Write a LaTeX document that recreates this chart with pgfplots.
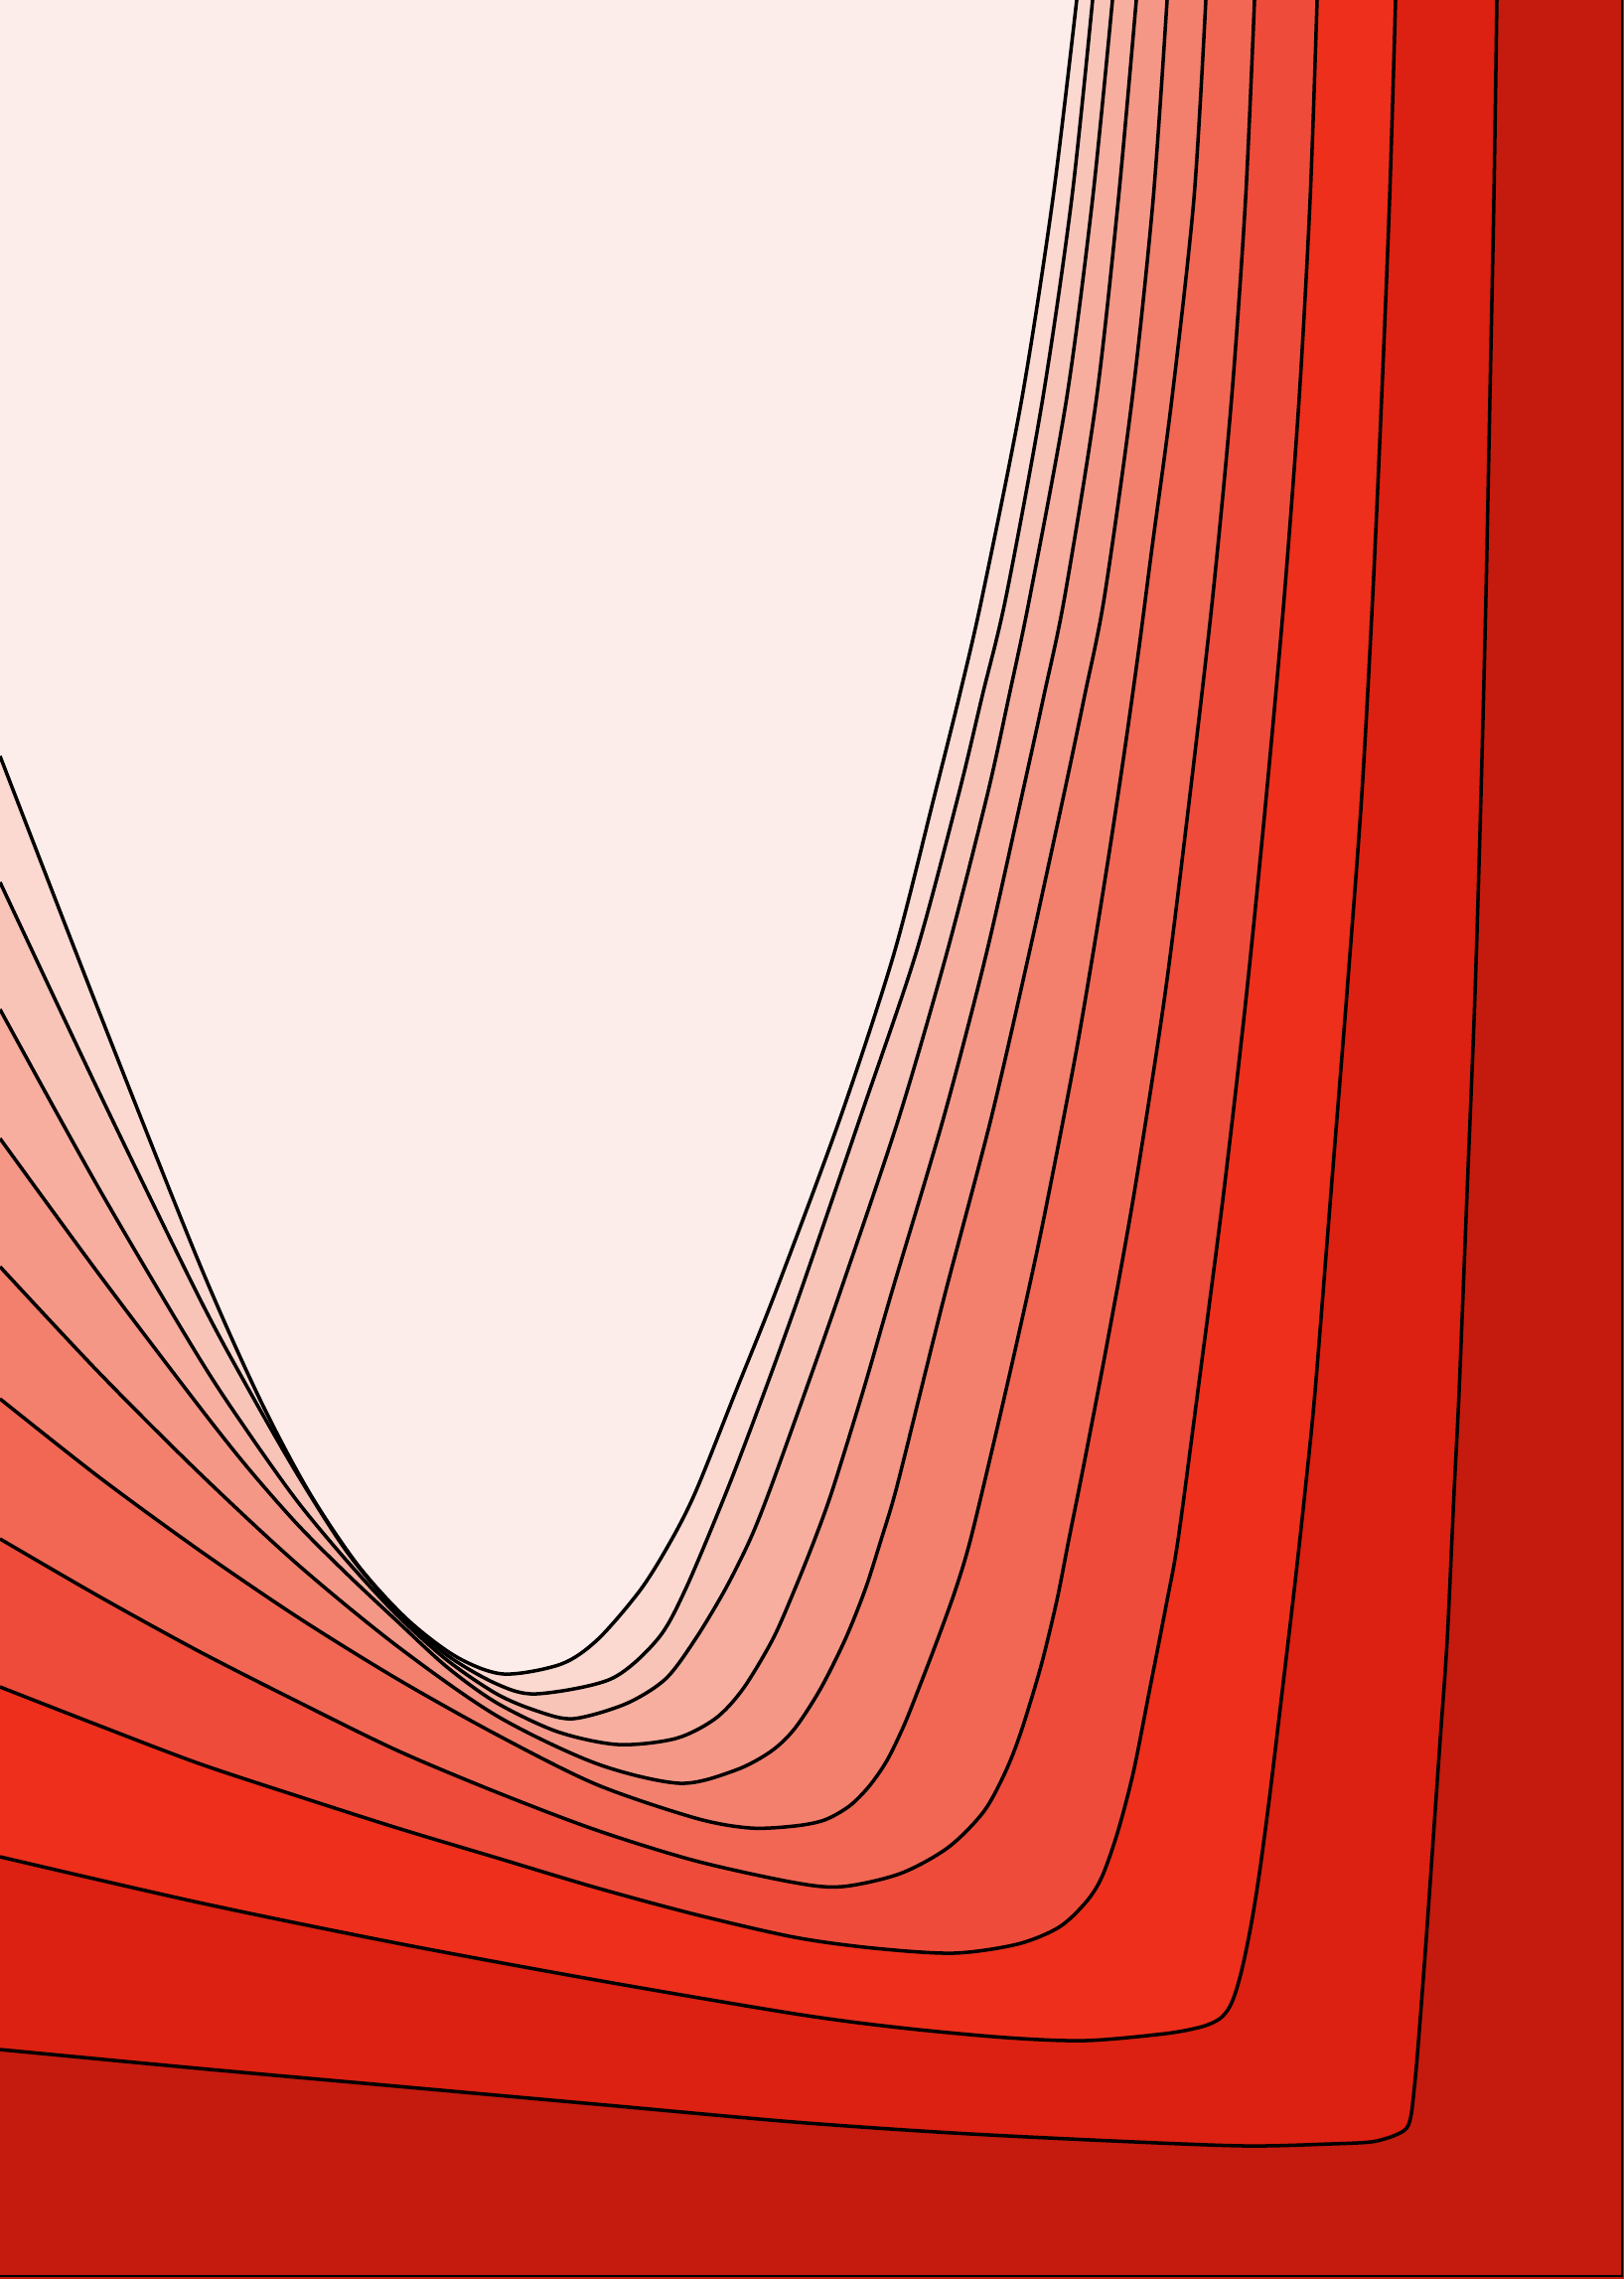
\documentclass[border=0pt]{standalone}
\usepackage{pgfplots}
\usepackage{pgfplotstable}
\pgfplotsset{compat=1.18}

\definecolor{r0}{HTML}{C51A0E}
\definecolor{r1}{HTML}{DC2011}
\definecolor{r2}{HTML}{EE2F1C}
\definecolor{r3}{HTML}{EF4B3A}
\definecolor{r4}{HTML}{F26754}
\definecolor{r5}{HTML}{F3806D}
\definecolor{r6}{HTML}{F59786}
\definecolor{r7}{HTML}{F7AE9F}
\definecolor{r8}{HTML}{F9C4B8}
\definecolor{r9}{HTML}{FBD9D0}
\definecolor{r10}{HTML}{FDEDEA}

% contour lines, image coordinates (y grows downwards), inner to outer
\pgfplotstableread{
x y
0 761
100 1019
200 1270
260 1405
310 1500
360 1575
410 1630
460 1668
507 1685
565 1675
602 1650
645 1600
676 1550
701 1500
741 1400
781 1300
846 1125
900 960
941 800
966 700
989 600
1029 400
1060 200
1084 0
}\lA
\pgfplotstableread{
x y
0 888
100 1100
200 1305
250 1398
300 1485
350 1563
400 1622
450 1666
500 1695
540 1705
615 1690
662 1650
690 1600
732 1500
770 1400
806 1300
866 1125
922 960
965 800
989 700
1013 600
1050 400
1079 200
1100 0
}\lB
\pgfplotstableread{
x y
0 1016
100 1197
200 1366
250 1442
300 1512
350 1572
400 1626
450 1671
500 1705
540 1722
577 1730
630 1715
670 1690
700 1650
730 1600
755 1550
775 1500
811 1400
846 1300
905 1125
953 960
994 800
1016 700
1037 600
1074 400
1100 200
1120 0
}\lC
\pgfplotstableread{
x y
0 1146
100 1283
200 1415
250 1478
300 1535
350 1585
400 1632
450 1678
500 1714
561 1743
622 1756
680 1750
720 1730
748 1700
778 1650
800 1600
820 1550
838 1500
869 1400
898 1300
950 1125
993 960
1029 800
1051 700
1072 600
1104 400
1126 200
1144 0
}\lD
\pgfplotstableread{
x y
0 1275
100 1382
200 1482
300 1575
400 1657
500 1727
600 1775
684 1795
740 1782
776 1763
800 1740
826 1700
851 1650
871 1600
887 1550
902 1500
927 1400
952 1300
998 1125
1036 960
1071 800
1092 700
1112 600
1140 400
1161 200
1175 0
}\lE
\pgfplotstableread{
x y
0 1408
100 1487
200 1560
300 1628
400 1690
500 1746
600 1796
700 1830
755 1840
800 1838
830 1832
855 1818
875 1798
893 1772
910 1737
926 1697
944 1650
962 1600
977 1550
1001 1450
1024 1350
1046 1250
1066 1150
1085 1050
1102 950
1118 850
1133 750
1147 650
1160 550
1180 400
1202 200
1214 0
}\lF
\pgfplotstableread{
x y
0 1549
100 1607
200 1662
300 1713
400 1762
500 1804
600 1842
700 1873
800 1895
848 1899
906 1886
954 1860
990 1824
1012 1784
1028 1743
1048 1677
1064 1611
1076 1550
1092 1470
1115 1350
1142 1200
1173 1000
1198 800
1221 600
1240 400
1254 200
1263 0
}\lG
\pgfplotstableread{
x y
0 1698
100 1737
200 1775
300 1808
400 1840
500 1870
600 1900
700 1927
800 1950
880 1961
960 1966
1024 1957
1066 1940
1093 1915
1109 1890
1125 1845
1141 1784
1157 1703
1174 1616
1186 1550
1206 1400
1232 1200
1255 1000
1275 800
1293 600
1308 400
1319 200
1326 0
}\lH
\pgfplotstableread{
x y
0 1869
200 1915
400 1956
600 1993
800 2027
906 2041
1013 2051
1093 2054
1173 2047
1210 2040
1228 2032
1238 2020
1245 2002
1252 1975
1260 1935
1268 1885
1278 1810
1290 1710
1303 1600
1314 1500
1324 1400
1340 1200
1356 1000
1371 800
1382 600
1391 400
1399 200
1405 0
}\lI
\pgfplotstableread{
x y
0 2063
200 2082
400 2100
600 2118
800 2136
960 2147
1120 2155
1253 2160
1340 2158
1380 2156
1400 2151
1413 2145
1418 2139
1421 2127
1423 2110
1426 2080
1430 2030
1436 1950
1443 1850
1450 1750
1457 1650
1464 1500
1469 1400
1477 1200
1485 1000
1491 800
1496 600
1500 400
1504 200
1507 0
}\lJ

\begin{document}
\begin{tikzpicture}
\begin{axis}[
    scale only axis,
    width=16.35cm,
    height=22.94cm,
    xmin=0, xmax=1635,
    ymin=0, ymax=2294,
    y dir=reverse,
    hide axis,
    clip=true,
]
\coordinate (sw) at (axis cs:0,2294);
\coordinate (ne) at (axis cs:1635,0);

% darkest background
\addplot[fill=r0, draw=none] coordinates {(0,0) (1635,0) (1635,2294) (0,2294)} -- cycle;

% filled levels, outer to inner
\addplot[fill=r1, draw=none, smooth] table {\lJ} -- (axis cs:0,0) -- cycle;
\addplot[fill=r2, draw=none, smooth] table {\lI} -- (axis cs:0,0) -- cycle;
\addplot[fill=r3, draw=none, smooth] table {\lH} -- (axis cs:0,0) -- cycle;
\addplot[fill=r4, draw=none, smooth] table {\lG} -- (axis cs:0,0) -- cycle;
\addplot[fill=r5, draw=none, smooth] table {\lF} -- (axis cs:0,0) -- cycle;
\addplot[fill=r6, draw=none, smooth] table {\lE} -- (axis cs:0,0) -- cycle;
\addplot[fill=r7, draw=none, smooth] table {\lD} -- (axis cs:0,0) -- cycle;
\addplot[fill=r8, draw=none, smooth] table {\lC} -- (axis cs:0,0) -- cycle;
\addplot[fill=r9, draw=none, smooth] table {\lB} -- (axis cs:0,0) -- cycle;
\addplot[fill=r10, draw=none, smooth] table {\lA} -- (axis cs:0,0) -- cycle;

% contour lines
\pgfplotsset{cline/.style={black, line width=1pt, smooth}}
\addplot[cline] table {\lA};
\addplot[cline] table {\lB};
\addplot[cline] table {\lC};
\addplot[cline] table {\lD};
\addplot[cline] table {\lE};
\addplot[cline] table {\lF};
\addplot[cline] table {\lG};
\addplot[cline] table {\lH};
\addplot[cline] table {\lI};
\addplot[cline] table {\lJ};

% frame on the two visible sides
\draw[black, line width=0.8pt] (axis cs:0,2291) -- (axis cs:1633,2291) -- (axis cs:1633,0);
\end{axis}
\pgfresetboundingbox
\useasboundingbox (sw) rectangle (ne);
\end{tikzpicture}
\end{document}
